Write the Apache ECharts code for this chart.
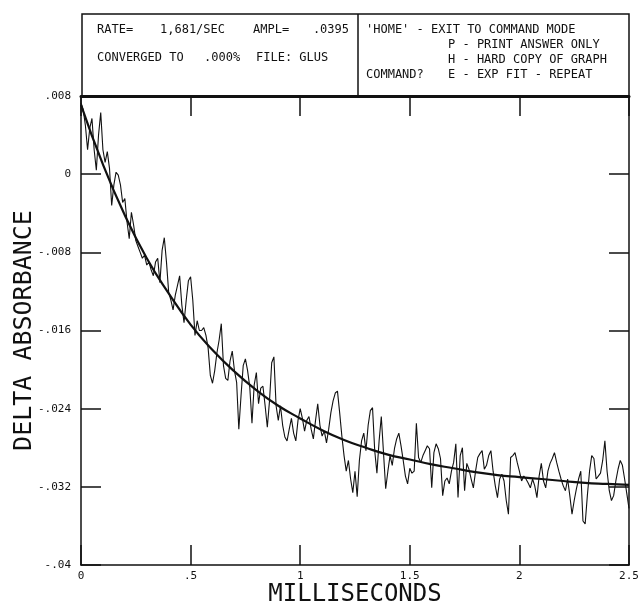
<!DOCTYPE html>
<html>
<head>
<meta charset="utf-8">
<script src="https://cdn.jsdelivr.net/npm/echarts@6/dist/echarts.min.js"></script>
<style>
  html, body { margin: 0; padding: 0; background: #fff; }
  #chart { width: 642px; height: 606px; }
</style>
</head>
<body>
<div id="chart"></div>
<script>
// x ticks (milliseconds) and y ticks (delta absorbance)
var xTickValues = [0, 0.5, 1, 1.5, 2, 2.5];
var xTickLabels = ['0', '.5', '1', '1.5', '2', '2.5'];
var yTickValues = [0.008, 0, -0.008, -0.016, -0.024, -0.032, -0.04];
var yTickLabels = ['.008', '0', '-.008', '-.016', '-.024', '-.032', '-.04'];

// raw trace, one sample every 0.01 ms from 0 to 2.5 ms
var traceStep = 0.01;
var traceValues = [
  0.0073, 0.0066, 0.0050, 0.0025, 0.0047, 0.0057, 0.0025, 0.0004, 0.0040, 0.0063,
  0.0025, 0.0012, 0.0023, 0.0006, -0.0032, -0.0011, 0.0002, -0.0001, -0.0011, -0.0029,
  -0.0025, -0.0049, -0.0066, -0.0039, -0.0052, -0.0068, -0.0074, -0.0080, -0.0086, -0.0083,
  -0.0093, -0.0090, -0.0098, -0.0104, -0.0090, -0.0086, -0.0111, -0.0078, -0.0065, -0.0090,
  -0.0121, -0.0129, -0.0139, -0.0124, -0.0114, -0.0104, -0.0134, -0.0152, -0.0129, -0.0109,
  -0.0105, -0.0129, -0.0165, -0.0150, -0.0160, -0.0160, -0.0157, -0.0165, -0.0178, -0.0206,
  -0.0214, -0.0201, -0.0183, -0.0170, -0.0153, -0.0196, -0.0209, -0.0211, -0.0191, -0.0181,
  -0.0201, -0.0213, -0.0261, -0.0227, -0.0196, -0.0189, -0.0201, -0.0218, -0.0255, -0.0216,
  -0.0203, -0.0235, -0.0219, -0.0217, -0.0237, -0.0259, -0.0232, -0.0193, -0.0187, -0.0237,
  -0.0252, -0.0237, -0.0257, -0.0269, -0.0273, -0.0261, -0.0250, -0.0265, -0.0273, -0.0252,
  -0.0240, -0.0250, -0.0263, -0.0252, -0.0248, -0.0261, -0.0271, -0.0252, -0.0235, -0.0257,
  -0.0268, -0.0263, -0.0275, -0.0261, -0.0244, -0.0232, -0.0224, -0.0222, -0.0244, -0.0268,
  -0.0288, -0.0304, -0.0293, -0.0312, -0.0326, -0.0304, -0.0330, -0.0293, -0.0273, -0.0265,
  -0.0283, -0.0257, -0.0242, -0.0239, -0.0283, -0.0306, -0.0273, -0.0248, -0.0285, -0.0322,
  -0.0304, -0.0288, -0.0298, -0.0281, -0.0271, -0.0265, -0.0278, -0.0293, -0.0309, -0.0317,
  -0.0301, -0.0306, -0.0304, -0.0255, -0.0290, -0.0295, -0.0288, -0.0283, -0.0278, -0.0281,
  -0.0321, -0.0285, -0.0276, -0.0281, -0.0291, -0.0329, -0.0314, -0.0311, -0.0317, -0.0304,
  -0.0295, -0.0276, -0.0331, -0.0288, -0.0280, -0.0324, -0.0296, -0.0302, -0.0312, -0.0321,
  -0.0304, -0.0290, -0.0286, -0.0283, -0.0302, -0.0298, -0.0288, -0.0283, -0.0304, -0.0319,
  -0.0331, -0.0312, -0.0307, -0.0314, -0.0334, -0.0348, -0.0290, -0.0288, -0.0285, -0.0295,
  -0.0304, -0.0314, -0.0309, -0.0312, -0.0316, -0.0321, -0.0312, -0.0319, -0.0331, -0.0309,
  -0.0296, -0.0314, -0.0321, -0.0304, -0.0296, -0.0291, -0.0285, -0.0295, -0.0304, -0.0312,
  -0.0319, -0.0324, -0.0312, -0.0329, -0.0348, -0.0334, -0.0322, -0.0312, -0.0304, -0.0355,
  -0.0358, -0.0329, -0.0304, -0.0288, -0.0291, -0.0312, -0.0309, -0.0306, -0.0293, -0.0273,
  -0.0304, -0.0324, -0.0334, -0.0329, -0.0314, -0.0302, -0.0293, -0.0298, -0.0312, -0.0327,
  -0.0342
];

// fitted exponential curve, read every 0.1 ms
var fitTimes = [0, 0.1, 0.2, 0.3, 0.4, 0.5, 0.6, 0.7, 0.8, 0.9, 1.0, 1.1, 1.2,
  1.3, 1.4, 1.5, 1.6, 1.7, 1.8, 1.9, 2.0, 2.1, 2.2, 2.3, 2.4, 2.5];
var fitValues = [0.0071, 0.0010, -0.0042, -0.0086, -0.0122, -0.0154, -0.0180, -0.0202,
  -0.0221, -0.0237, -0.0250, -0.0262, -0.0272, -0.0280, -0.0287, -0.0292, -0.0297,
  -0.0301, -0.0305, -0.0308, -0.0310, -0.0312, -0.0314, -0.0316, -0.0317, -0.0318];

var traceData = [];
for (var i = 0; i < traceValues.length; i++) {
    traceData.push([+(i * traceStep).toFixed(2), traceValues[i]]);
}
var fitData = [];
for (var j = 0; j < fitTimes.length; j++) {
    fitData.push([fitTimes[j], fitValues[j]]);
}

var ink = '#111';
var mono = '"DejaVu Sans Mono", "Liberation Mono", monospace';

function xLabel(v) {
    var k = Math.round(v / 0.5);
    return xTickLabels[k] !== undefined ? xTickLabels[k] : '';
}
function yLabel(v) {
    var k = Math.round((0.008 - v) / 0.008);
    return yTickLabels[k] !== undefined ? yTickLabels[k] : '';
}

function headText(txt, x, y, align) {
    return {
        type: 'text', x: x, y: y, silent: true,
        style: {
            text: txt, fill: ink, fontFamily: mono, fontSize: 12,
            align: align || 'left', verticalAlign: 'middle'
        }
    };
}

var myChart = echarts.init(document.getElementById('chart'), null, { renderer: 'canvas' });

var axisLineStyle = { color: ink, width: 1.5 };
var tickStyle = { show: true, inside: true, length: 20, lineStyle: { color: ink, width: 1.5 } };

var option = {
    backgroundColor: '#fff',
    animation: false,
    grid: { left: 81, right: 13, top: 96, bottom: 41, containLabel: false, outerBoundsMode: 'none' },
    xAxis: [
        {
            type: 'value', min: 0, max: 2.5, interval: 0.5, position: 'bottom',
            name: 'MILLISECONDS', nameLocation: 'middle', nameGap: 18, nameMoveOverlap: false,
            nameTextStyle: { color: ink, fontFamily: mono, fontSize: 24 },
            axisLine: { show: true, onZero: false, lineStyle: axisLineStyle },
            axisTick: tickStyle,
            axisLabel: { color: ink, fontFamily: mono, fontSize: 11, margin: 6, formatter: xLabel },
            splitLine: { show: false }
        },
        {
            type: 'value', min: 0, max: 2.5, interval: 0.5, position: 'top',
            axisLine: { show: true, onZero: false, lineStyle: { color: ink, width: 3 } },
            axisTick: tickStyle,
            axisLabel: { show: false },
            splitLine: { show: false }
        }
    ],
    yAxis: [
        {
            type: 'value', min: -0.04, max: 0.008, interval: 0.008, position: 'left',
            name: 'DELTA ABSORBANCE', nameLocation: 'middle', nameGap: 44, nameMoveOverlap: false,
            nameTextStyle: { color: ink, fontFamily: mono, fontSize: 25 },
            axisLine: { show: true, onZero: false, lineStyle: axisLineStyle },
            axisTick: tickStyle,
            axisLabel: { color: ink, fontFamily: mono, fontSize: 11, margin: 10, formatter: yLabel },
            splitLine: { show: false }
        },
        {
            type: 'value', min: -0.04, max: 0.008, interval: 0.008, position: 'right',
            axisLine: { show: true, onZero: false, lineStyle: axisLineStyle },
            axisTick: tickStyle,
            axisLabel: { show: false },
            splitLine: { show: false }
        }
    ],
    graphic: [
        {
            type: 'rect', silent: true,
            shape: { x: 82, y: 14, width: 547, height: 82 },
            style: { fill: '#fff', stroke: ink, lineWidth: 1.5 }
        },
        {
            type: 'line', silent: true,
            shape: { x1: 358, y1: 14, x2: 358, y2: 96 },
            style: { stroke: ink, lineWidth: 1.5 }
        },
        headText('RATE=', 97, 30),
        headText('1,681/SEC', 160, 30),
        headText('AMPL=', 253, 30),
        headText('.0395', 349, 30, 'right'),
        headText('CONVERGED TO', 97, 58),
        headText('.000%', 204, 58),
        headText('FILE: GLUS', 256, 58),
        headText("'HOME' - EXIT TO COMMAND MODE", 366, 30),
        headText('P - PRINT ANSWER ONLY', 448, 45),
        headText('H - HARD COPY OF GRAPH', 448, 60),
        headText('COMMAND?', 366, 75),
        headText('E - EXP FIT - REPEAT', 448, 75)
    ],
    series: [
        {
            name: 'Trace',
            type: 'line',
            xAxisIndex: 0, yAxisIndex: 0,
            data: traceData,
            showSymbol: false,
            lineStyle: { color: ink, width: 1.1 },
            z: 2
        },
        {
            name: 'Exp fit',
            type: 'line',
            xAxisIndex: 0, yAxisIndex: 0,
            data: fitData,
            smooth: true,
            showSymbol: false,
            lineStyle: { color: ink, width: 2.2 },
            z: 3
        }
    ]
};
myChart.setOption(option);
</script>
</body>
</html>
